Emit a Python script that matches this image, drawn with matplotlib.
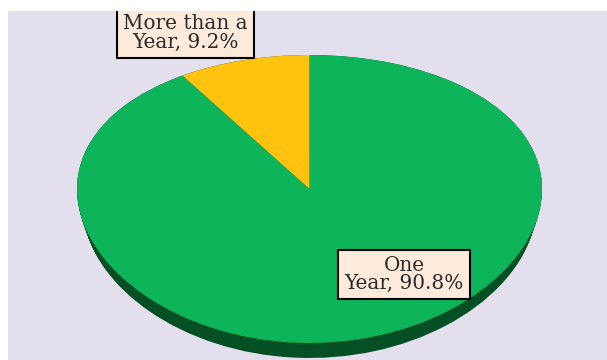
import numpy as np
import matplotlib.pyplot as plt
from matplotlib.patches import Rectangle

labels = ["One\nYear", "More than a\nYear"]
values = [90.8, 9.2]
top_colors = ["#0db45a", "#ffc20e"]
side_color = "#045024"

# slight perspective on the vertical axis so the near half looks bigger
k = 0.0694


def fwd(y):
    return y / (1 + k * y)


def inv(u):
    return u / (1 - k * u)


fig = plt.figure(figsize=(6.07, 3.6), dpi=100)
fig.patch.set_facecolor("white")

bg = fig.add_axes([8 / 607, 0, 599 / 607, 349 / 360])
bg.set_facecolor("#e4dfec")
bg.set_axis_off()
bg.add_patch(Rectangle((0, 0), 1, 1, transform=bg.transAxes,
                       facecolor="#e4dfec", edgecolor="none"))

ax = fig.add_axes([0, 0, 1, 1])
ax.set_yscale("function", functions=(fwd, inv))

# sides of the disc: same pie stacked downward in a dark green,
# slightly narrower further down so the rim only shows at the front
for off, r in zip(np.linspace(0.115, 0, 20), np.linspace(0.975, 1.0, 20)):
    ax.pie(values, colors=[side_color, side_color], startangle=90,
           counterclock=False, center=(0, -off), radius=r,
           wedgeprops=dict(linewidth=0))

ax.pie(values, colors=top_colors, startangle=90, counterclock=False,
       center=(0, 0), radius=1.0, wedgeprops=dict(linewidth=0))

ax.set_aspect("auto")
rx = 232.5
cx = 309.5
ax.set_xlim(-cx / rx, (607 - cx) / rx)
uy = 143.3
ax.set_ylim(inv(-(360 - 189) / uy), inv(189 / uy))
ax.set_axis_off()

box = dict(boxstyle="square,pad=0.3", facecolor="#fdeada",
           edgecolor="black", linewidth=1.5)
fnt = dict(family="DejaVu Serif", size=14.4, color="#2a2a2a",
           ha="center", va="center", linespacing=0.98)

fig.text(185.5 / 607, 1 - 33 / 360,
         f"{labels[1]}, {values[1]}%", bbox=box, **fnt)
fig.text(404 / 607, 1 - 274.5 / 360,
         f"{labels[0]}, {values[0]}%", bbox=box, **fnt)

# white strip along the top edge hides the upper border of the label box
fig.patches.append(Rectangle((0, 349 / 360), 1, 11 / 360,
                             transform=fig.transFigure, facecolor="white",
                             edgecolor="none", zorder=10))

fig.savefig("out.png", dpi=100, facecolor="white")
